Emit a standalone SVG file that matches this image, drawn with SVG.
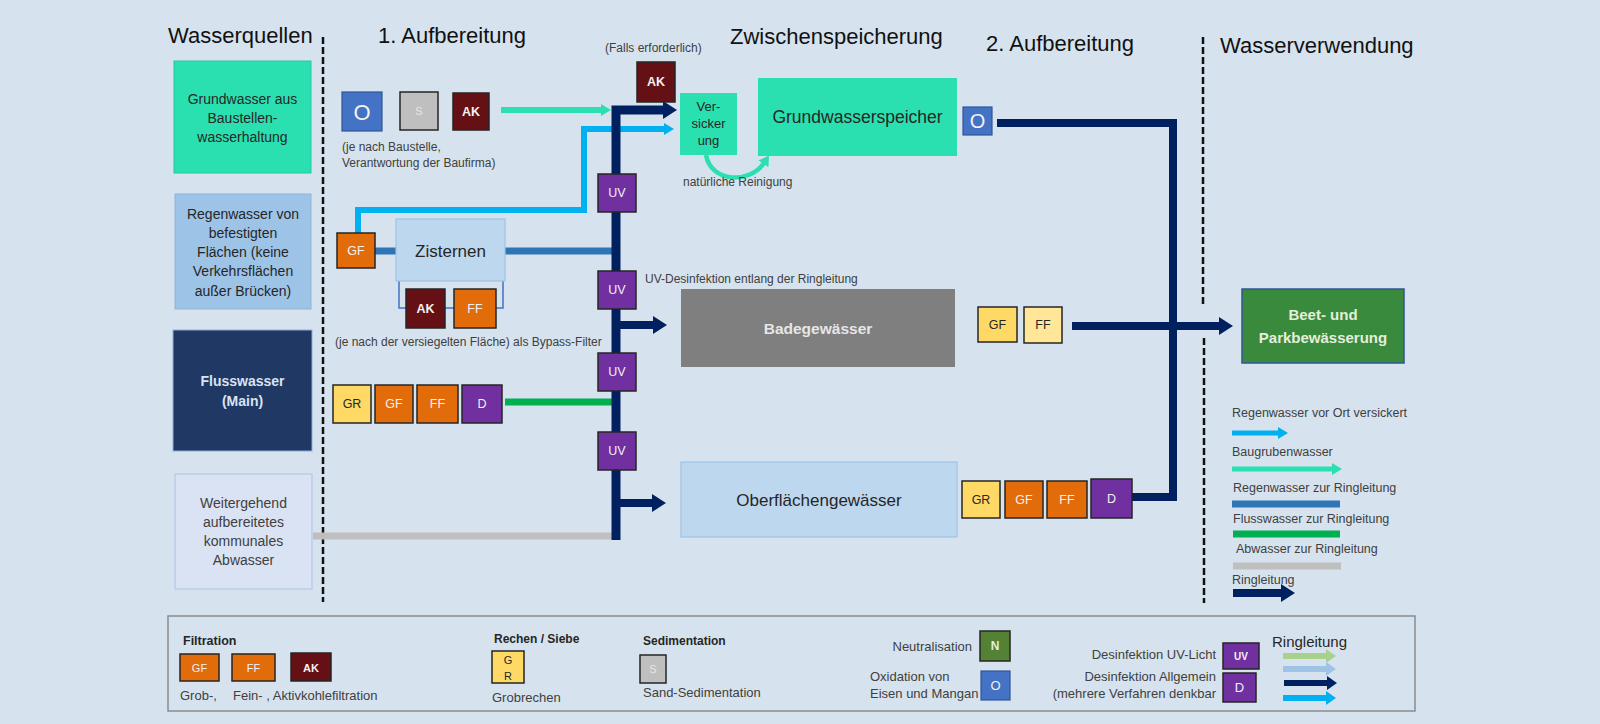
<svg xmlns="http://www.w3.org/2000/svg" width="1600" height="724" viewBox="0 0 1600 724">
<defs>
<style>
text{font-family:"Liberation Sans",Arial,sans-serif;fill:#262626}
.h{font-size:22px;fill:#111}
.c{text-anchor:middle}
.e{text-anchor:end}
.t14{font-size:14px}
.s12{font-size:12px;fill:#404040}
.lg{font-size:12.5px;fill:#404040}
.l13{font-size:13px;fill:#404040}
.bx{stroke:#262626;stroke-width:1.5}
.or{fill:#E26B0A}
.ak{fill:#641015}
.pu{fill:#7030A0}
.ye{fill:#FFD966}
.ly{fill:#FFE699}
.gy{fill:#BFBFBF}
.ob{fill:#4472C4}
.bt{font-size:12.5px;fill:#F2F2F2}
.bb{font-size:12.5px;fill:#262626}
.bo{font-weight:bold}
.ln{fill:none}
</style>
<marker id="aN" markerUnits="userSpaceOnUse" markerWidth="14" markerHeight="18" viewBox="0 0 14 18" refX="1" refY="9" orient="auto"><path d="M0,0L14,9L0,18z" fill="#002060"/></marker>
<marker id="aNs" markerUnits="userSpaceOnUse" markerWidth="10" markerHeight="14" viewBox="0 0 10 14" refX="1" refY="7" orient="auto"><path d="M0,0L10,7L0,14z" fill="#002060"/></marker>
<marker id="aT" markerUnits="userSpaceOnUse" markerWidth="10" markerHeight="12" viewBox="0 0 10 12" refX="1" refY="6" orient="auto"><path d="M0,0L10,6L0,12z" fill="#2BE0B0"/></marker>
<marker id="aL" markerUnits="userSpaceOnUse" markerWidth="10" markerHeight="12" viewBox="0 0 10 12" refX="1" refY="6" orient="auto"><path d="M0,0L10,6L0,12z" fill="#00B0F0"/></marker>
<marker id="aG" markerUnits="userSpaceOnUse" markerWidth="10" markerHeight="14" viewBox="0 0 10 14" refX="1" refY="7" orient="auto"><path d="M0,0L10,7L0,14z" fill="#A9D18E"/></marker>
<marker id="aP" markerUnits="userSpaceOnUse" markerWidth="10" markerHeight="14" viewBox="0 0 10 14" refX="1" refY="7" orient="auto"><path d="M0,0L10,7L0,14z" fill="#9DC3E6"/></marker>
<marker id="aLs" markerUnits="userSpaceOnUse" markerWidth="10" markerHeight="14" viewBox="0 0 10 14" refX="1" refY="7" orient="auto"><path d="M0,0L10,7L0,14z" fill="#00B0F0"/></marker>
</defs>
<rect width="1600" height="724" fill="#D6E3EE"/>

<g id="headers">
<text class="h" x="168" y="43">Wasserquellen</text>
<text class="h" x="378" y="43">1. Aufbereitung</text>
<text class="h" x="730" y="44">Zwischenspeicherung</text>
<text class="h" x="986" y="51">2. Aufbereitung</text>
<text class="h" x="1220" y="53">Wasserverwendung</text>
</g>

<g id="dividers" stroke="#111" stroke-width="2.5" stroke-dasharray="7 3">
<line x1="323" y1="37" x2="323" y2="602"/>
<line x1="1203" y1="37" x2="1203" y2="305"/>
<line x1="1204" y1="338" x2="1204" y2="603"/>
</g>

<g id="connectors">
<line x1="501" y1="110" x2="602" y2="110" stroke="#2BE0B0" stroke-width="6" marker-end="url(#aT)"/>
<path class="ln" d="M358,233V210H584V129H665" stroke="#00B0F0" stroke-width="6" marker-end="url(#aL)"/>
<line x1="375" y1="251" x2="396" y2="251" stroke="#2E75B6" stroke-width="7"/>
<line x1="505" y1="251" x2="613" y2="251" stroke="#2E75B6" stroke-width="7"/>
<path class="ln" d="M399,281V308H503V281" stroke="#4472C4" stroke-width="1.5"/>
<line x1="505" y1="402" x2="613" y2="402" stroke="#00B050" stroke-width="7"/>
<line x1="313" y1="536" x2="613" y2="536" stroke="#BFBFBF" stroke-width="7"/>
<path class="ln" d="M616,540V110H664" stroke="#002060" stroke-width="9" marker-end="url(#aN)"/>
<line x1="618" y1="325" x2="654" y2="325" stroke="#002060" stroke-width="8" marker-end="url(#aN)"/>
<line x1="618" y1="503" x2="653" y2="503" stroke="#002060" stroke-width="8" marker-end="url(#aN)"/>
<path class="ln" d="M997,123H1173V497H1132" stroke="#002060" stroke-width="8"/>
<line x1="1072" y1="326" x2="1220" y2="326" stroke="#002060" stroke-width="8" marker-end="url(#aN)"/>
<path class="ln" d="M706,155C711,183 750,184 764,163" stroke="#2BE0B0" stroke-width="4.5" marker-end="url(#aT)"/>
</g>

<g id="grundwasser-quelle">
<rect x="174" y="61" width="137" height="112" fill="#2BE0B0" stroke="#22C89C" stroke-width="1"/>
<text class="t14 c" x="242.5" y="104">Grundwasser aus</text>
<text class="t14 c" x="242.5" y="123">Baustellen-</text>
<text class="t14 c" x="242.5" y="142">wasserhaltung</text>
</g>
<g id="regenwasser-quelle">
<rect x="175" y="194" width="136" height="115" fill="#9DC3E6" stroke="#8FB4D9" stroke-width="1"/>
<text class="t14 c" x="243" y="219">Regenwasser von</text>
<text class="t14 c" x="243" y="238">befestigten</text>
<text class="t14 c" x="243" y="257">Flächen (keine</text>
<text class="t14 c" x="243" y="276">Verkehrsflächen</text>
<text class="t14 c" x="243" y="296">außer Brücken)</text>
</g>
<g id="flusswasser-quelle">
<rect x="173" y="330" width="139" height="121" fill="#1F3864" stroke="#8FAADC" stroke-width="1"/>
<text class="c bo" x="242.5" y="386" style="font-size:14px;fill:#DAE3F3">Flusswasser</text>
<text class="c bo" x="242.5" y="406" style="font-size:14px;fill:#DAE3F3">(Main)</text>
</g>
<g id="abwasser-quelle">
<rect x="175" y="474" width="137" height="115" fill="#DAE3F3" stroke="#B4C7E7" stroke-width="1.2"/>
<text class="t14 c" x="243.5" y="508" style="fill:#404040">Weitergehend</text>
<text class="t14 c" x="243.5" y="527" style="fill:#404040">aufbereitetes</text>
<text class="t14 c" x="243.5" y="546" style="fill:#404040">kommunales</text>
<text class="t14 c" x="243.5" y="565" style="fill:#404040">Abwasser</text>
</g>

<g id="aufbereitung-grundwasser">
<rect class="ob" x="342" y="92" width="40" height="39" stroke="#2F5597" stroke-width="1.2"/>
<text class="c" x="362" y="120" style="font-size:22px;fill:#F2F2F2">O</text>
<rect class="gy bx" x="400" y="92" width="38" height="38"/>
<text class="c" x="419" y="115" style="font-size:11px;fill:#E6E6E6">S</text>
<rect class="ak bx" x="453" y="93" width="36" height="37"/>
<text class="bt c bo" x="471" y="116">AK</text>
<text class="s12" x="342" y="151">(je nach Baustelle,</text>
<text class="s12" x="342" y="167">Verantwortung der Baufirma)</text>
</g>

<g id="aktivkohle-optional">
<text class="s12" x="605" y="52">(Falls erforderlich)</text>
<rect class="ak bx" x="637" y="62" width="38" height="40"/>
<text class="bt c bo" x="656" y="86">AK</text>
</g>

<g id="versickerung">
<rect x="680" y="93" width="57" height="62" fill="#2BE0B0"/>
<text class="c" x="708.5" y="111" style="font-size:13px">Ver-</text>
<text class="c" x="708.5" y="128" style="font-size:13px">sicker</text>
<text class="c" x="708.5" y="145" style="font-size:13px">ung</text>
<text class="s12" x="683" y="186">natürliche Reinigung</text>
</g>

<g id="grundwasserspeicher">
<rect x="758" y="78" width="199" height="78" fill="#2BE0B0"/>
<text class="c" x="857.5" y="123" style="font-size:17.5px">Grundwasserspeicher</text>
</g>
<g id="oxidation-speicher">
<rect class="ob" x="963" y="107" width="29" height="28" stroke="#2F5597" stroke-width="1.2"/>
<text class="c" x="977.5" y="128" style="font-size:20px;fill:#F2F2F2">O</text>
</g>

<g id="regen-aufbereitung">
<rect class="or bx" x="337" y="233" width="38" height="35"/>
<text class="bt c" x="356" y="255">GF</text>
<rect x="396" y="219" width="109" height="62" fill="#BDD7EE" stroke="#9DC3E6" stroke-width="1.2"/>
<text class="c" x="450.5" y="257" style="font-size:17px">Zisternen</text>
<rect class="ak bx" x="406" y="289" width="39" height="39"/>
<text class="bt c bo" x="425.5" y="313">AK</text>
<rect class="or bx" x="454" y="289" width="42" height="39"/>
<text class="bt c" x="475" y="313">FF</text>
<text class="s12" x="335" y="346">(je nach der versiegelten Fläche) als Bypass-Filter</text>
</g>

<g id="fluss-aufbereitung">
<rect class="ye bx" x="333" y="385" width="38" height="38"/>
<text class="bb c" x="352" y="408">GR</text>
<rect class="or bx" x="375" y="385" width="38" height="38"/>
<text class="bt c" x="394" y="408">GF</text>
<rect class="or bx" x="417" y="385" width="41" height="38"/>
<text class="bt c" x="437.5" y="408">FF</text>
<rect class="pu bx" x="462" y="385" width="40" height="38"/>
<text class="bt c" x="482" y="408">D</text>
</g>

<g id="uv-ringleitung">
<rect class="pu bx" x="598" y="174" width="38" height="38"/>
<text class="bt c" x="617" y="197">UV</text>
<rect class="pu bx" x="598" y="271" width="38" height="38"/>
<text class="bt c" x="617" y="294">UV</text>
<rect class="pu bx" x="598" y="353" width="38" height="38"/>
<text class="bt c" x="617" y="376">UV</text>
<rect class="pu bx" x="598" y="432" width="38" height="38"/>
<text class="bt c" x="617" y="455">UV</text>
<text class="s12" x="645" y="283">UV-Desinfektion entlang der Ringleitung</text>
</g>

<g id="badegewaesser">
<rect x="681" y="289" width="274" height="78" fill="#7F7F7F"/>
<text class="c bo" x="818" y="334" style="font-size:15.5px;fill:#E7E6E6">Badegewässer</text>
</g>
<g id="oberflaechengewaesser">
<rect x="681" y="462" width="276" height="75" fill="#BDD7EE" stroke="#9DC3E6" stroke-width="1.2"/>
<text class="c" x="819" y="506" style="font-size:17px">Oberflächengewässer</text>
</g>

<g id="bade-aufbereitung">
<rect class="ye bx" x="978" y="307" width="39" height="35"/>
<text class="bb c" x="997.5" y="329">GF</text>
<rect class="ly bx" x="1024" y="307" width="38" height="36"/>
<text class="bb c" x="1043" y="329">FF</text>
</g>
<g id="oberflaeche-aufbereitung">
<rect class="ye bx" x="962" y="481" width="38" height="37"/>
<text class="bb c" x="981" y="504">GR</text>
<rect class="or bx" x="1005" y="481" width="38" height="37"/>
<text class="bt c" x="1024" y="504">GF</text>
<rect class="or bx" x="1047" y="481" width="40" height="37"/>
<text class="bt c" x="1067" y="504">FF</text>
<rect class="pu bx" x="1091" y="479" width="41" height="39"/>
<text class="bt c" x="1111.5" y="503">D</text>
</g>

<g id="beet-parkbewaesserung">
<rect x="1242" y="289" width="162" height="74" fill="#3A8A3E" stroke="#2F5597" stroke-width="1.5"/>
<text class="c bo" x="1323" y="320" style="font-size:15px;fill:#E2EFDA">Beet- und</text>
<text class="c bo" x="1323" y="343" style="font-size:15px;fill:#E2EFDA">Parkbewässerung</text>
</g>

<g id="legende-leitungen">
<text class="lg" x="1232" y="417">Regenwasser vor Ort versickert</text>
<line x1="1232" y1="433" x2="1279" y2="433" stroke="#00B0F0" stroke-width="5" marker-end="url(#aL)"/>
<text class="lg" x="1232" y="456">Baugrubenwasser</text>
<line x1="1232" y1="469" x2="1333" y2="469" stroke="#2BE0B0" stroke-width="5" marker-end="url(#aT)"/>
<text class="lg" x="1233" y="492">Regenwasser zur Ringleitung</text>
<line x1="1232" y1="504" x2="1340" y2="504" stroke="#2E75B6" stroke-width="7"/>
<text class="lg" x="1233" y="523">Flusswasser zur Ringleitung</text>
<line x1="1233" y1="534" x2="1340" y2="534" stroke="#00B050" stroke-width="7"/>
<text class="lg" x="1236" y="553">Abwasser zur Ringleitung</text>
<line x1="1233" y1="566" x2="1341" y2="566" stroke="#BFBFBF" stroke-width="7"/>
<text class="lg" x="1232" y="584">Ringleitung</text>
<line x1="1233" y1="593" x2="1282" y2="593" stroke="#002060" stroke-width="8" marker-end="url(#aN)"/>
</g>

<g id="legende-verfahren">
<rect x="168" y="616" width="1247" height="95" fill="#D6E3EE" stroke="#8C8C8C" stroke-width="1.5"/>
<text class="bo" x="183" y="645" style="font-size:12.5px">Filtration</text>
<rect class="or bx" x="180" y="654" width="39" height="27"/>
<text class="c" x="199.5" y="672" style="font-size:11px;fill:#F2F2F2">GF</text>
<rect class="or bx" x="232" y="654" width="43" height="27"/>
<text class="c" x="253.5" y="672" style="font-size:11px;fill:#F2F2F2">FF</text>
<rect class="ak bx" x="291" y="653" width="40" height="28"/>
<text class="c bo" x="311" y="672" style="font-size:11px;fill:#F2F2F2">AK</text>
<text class="l13" x="180" y="700">Grob-,</text>
<text class="l13" x="233" y="700">Fein- , Aktivkohlefiltration</text>
<text class="bo" x="494" y="643" style="font-size:12px">Rechen / Siebe</text>
<rect class="ye bx" x="492" y="651" width="32" height="32"/>
<text class="c" x="508" y="664" style="font-size:11px">G</text>
<text class="c" x="508" y="680" style="font-size:11px">R</text>
<text class="l13" x="492" y="702">Grobrechen</text>
<text class="bo" x="643" y="645" style="font-size:12px">Sedimentation</text>
<rect class="gy bx" x="640" y="655" width="26" height="28"/>
<text class="c" x="653" y="673" style="font-size:11px;fill:#E6E6E6">S</text>
<text class="l13" x="643" y="697">Sand-Sedimentation</text>
<text class="l13 e" x="972" y="651">Neutralisation</text>
<rect x="980" y="631" width="30" height="30" fill="#548235" class="bx"/>
<text class="c bo" x="995" y="650" style="font-size:12px;fill:#E2EFDA">N</text>
<text class="l13" x="870" y="681">Oxidation von</text>
<text class="l13" x="870" y="698">Eisen und Mangan</text>
<rect class="ob" x="981" y="671" width="29" height="29" stroke="#2F5597" stroke-width="1.2"/>
<text class="c" x="995.5" y="690" style="font-size:13px;fill:#F2F2F2">O</text>
<text class="l13 e" x="1216" y="659">Desinfektion UV-Licht</text>
<rect class="pu bx" x="1223" y="643" width="36" height="26"/>
<text class="c bo" x="1241" y="660" style="font-size:10px;fill:#F2F2F2">UV</text>
<text class="l13 e" x="1216" y="681">Desinfektion Allgemein</text>
<text class="l13 e" x="1216" y="698">(mehrere Verfahren denkbar</text>
<rect class="pu bx" x="1223" y="673" width="33" height="29"/>
<text class="c" x="1239.5" y="692" style="font-size:13px;fill:#F2F2F2">D</text>
<text x="1272" y="647" style="font-size:15px">Ringleitung</text>
<line x1="1283" y1="656" x2="1327" y2="656" stroke="#A9D18E" stroke-width="6" marker-end="url(#aG)"/>
<line x1="1283" y1="669" x2="1327" y2="669" stroke="#9DC3E6" stroke-width="6" marker-end="url(#aP)"/>
<line x1="1284" y1="683" x2="1328" y2="683" stroke="#002060" stroke-width="6" marker-end="url(#aNs)"/>
<line x1="1283" y1="698" x2="1327" y2="698" stroke="#00B0F0" stroke-width="6" marker-end="url(#aLs)"/>
</g>
</svg>
